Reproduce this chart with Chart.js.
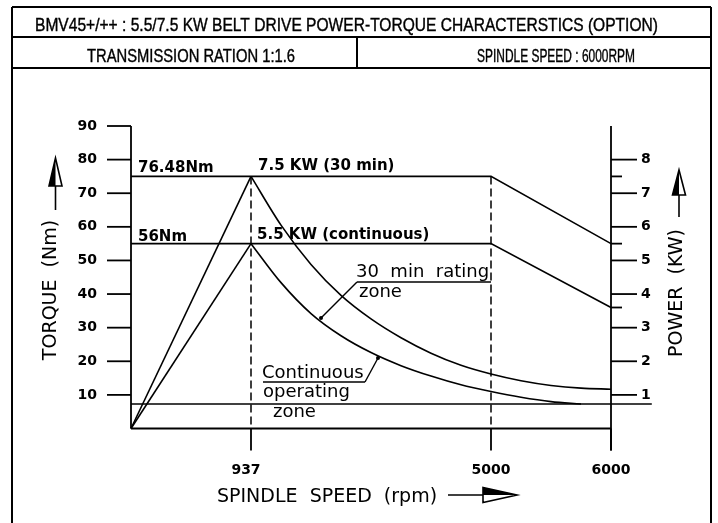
<!DOCTYPE html>
<html>
<head>
<meta charset="utf-8">
<script src="https://cdn.jsdelivr.net/npm/chart.js@4/dist/chart.umd.min.js"></script>
<style>
  html, body { margin: 0; padding: 0; background: #fff; }
  #wrap { width: 718px; height: 523px; }
</style>
</head>
<body>
<div id="wrap"><canvas id="powerTorqueChart" width="718" height="523"></canvas></div>
<script>
// ==============================
// TEXTS
// ==============================
const TITLE = "BMV45+/++ : 5.5/7.5 KW BELT DRIVE POWER-TORQUE CHARACTERSTICS (OPTION)";
const SUB_LEFT = "TRANSMISSION RATION 1:1.6";
const SUB_RIGHT = "SPINDLE SPEED : 6000RPM";

// ==============================
// DATA
// ==============================
// the speed axis is schematic: drawing positions 0..4, labelled in rpm
const speedPos = [1, 3, 4];
const speedLabels = ["937", "5000", "6000"];

const torqueTicks = [10, 20, 30, 40, 50, 60, 70, 80, 90];
const powerTicks = [1, 2, 3, 4, 5, 6, 7, 8];
const powerMarks = [7.5, 5.5, 3.6];

// torque ramps from the origin to the base speed (Nm)
const rampX = [0, 1];
const ramp30 = [0, 75];
const rampCont = [0, 55];

// power lines (kW, right axis)
const powerX = [0, 3, 4];
const power30 = [7.5, 7.5, 5.5];
const powerCont = [5.5, 5.5, 3.6];

// torque curves above base speed (Nm)
const curve30X = [1, 1.25, 1.5, 1.75, 2, 2.25, 2.5, 2.75, 3, 3.25, 3.5, 3.75, 4];
const curve30 = [75, 60.5, 48.8, 39.6, 32.6, 27, 22.4, 18.8, 16.2, 14.2, 12.8, 12, 11.7];
const curveContX = [1, 1.25, 1.5, 1.75, 2, 2.25, 2.5, 2.75, 3, 3.25, 3.5, 3.75];
const curveCont = [55, 43.4, 34.2, 27.6, 22.6, 18.7, 15.6, 13, 11, 9.3, 8, 7.3];

// low torque limit line
const floorX = [0, 4.34];
const floorTorque = [7.3, 7.3];

const guideTop = 75;

const pts = (xs, ys) => xs.map((x, i) => ({ x: x, y: ys[i] }));

// ==============================
// DRAWING HELPERS
// ==============================
function line(ctx, x1, y1, x2, y2) {
  ctx.beginPath();
  ctx.moveTo(x1, y1);
  ctx.lineTo(x2, y2);
  ctx.stroke();
}

// squeeze or stretch a text to an exact width (CAD lettering is condensed)
function fitText(ctx, text, x, y, width) {
  const w = ctx.measureText(text).width;
  ctx.save();
  ctx.translate(x, y);
  ctx.scale(width / w, 1);
  ctx.lineWidth = 0.4;
  ctx.fillText(text, 0, 0);
  ctx.strokeText(text, 0, 0);
  ctx.restore();
}

// CAD style arrow, one half of the head filled
function arrowUp(ctx, cx, tip, base, end) {
  const w = 6.5;
  line(ctx, cx, base, cx, end);
  ctx.beginPath();
  ctx.moveTo(cx, tip); ctx.lineTo(cx - w, base); ctx.lineTo(cx + w, base); ctx.closePath();
  ctx.stroke();
  ctx.beginPath();
  ctx.moveTo(cx, tip); ctx.lineTo(cx - w, base); ctx.lineTo(cx, base); ctx.closePath();
  ctx.fill();
}

function arrowRight(ctx, cy, start, base, tip) {
  const h = 7.5;
  line(ctx, start, cy, base, cy);
  ctx.beginPath();
  ctx.moveTo(tip, cy); ctx.lineTo(base, cy - h); ctx.lineTo(base, cy + h); ctx.closePath();
  ctx.stroke();
  ctx.beginPath();
  ctx.moveTo(tip, cy); ctx.lineTo(base, cy - h); ctx.lineTo(base, cy); ctx.closePath();
  ctx.fill();
}

function vText(ctx, text, x, y) {
  ctx.save();
  ctx.translate(x, y);
  ctx.rotate(-Math.PI / 2);
  ctx.textAlign = "center";
  ctx.textBaseline = "middle";
  ctx.fillText(text, 0, 0);
  ctx.restore();
}

// ==============================
// FRAME, AXES AND NOTES
// ==============================
const drawingPlugin = {
  id: "drawing",
  beforeDraw(chart) {
    const ctx = chart.ctx;
    ctx.save();
    ctx.fillStyle = "#fff";
    ctx.fillRect(0, 0, chart.width, chart.height);
    ctx.restore();
  },
  afterDraw(chart) {
    const ctx = chart.ctx;
    const xs = chart.scales.x, yT = chart.scales.y, yP = chart.scales.yP;
    const x0 = xs.getPixelForValue(0), xEnd = xs.getPixelForValue(4);
    const base = yT.getPixelForValue(0);
    const tickBottom = base + 22;

    ctx.save();
    ctx.strokeStyle = "#000";
    ctx.fillStyle = "#000";
    ctx.lineCap = "butt";

    // frame
    ctx.lineWidth = 2;
    line(ctx, 12, 7, 711, 7);
    line(ctx, 12, 37, 711, 37);
    line(ctx, 12, 68, 711, 68);
    line(ctx, 12, 7, 12, 523);
    line(ctx, 711, 7, 711, 523);
    line(ctx, 357, 37, 357, 68);

    ctx.font = "18.5px 'Liberation Sans Narrow', 'Liberation Sans', Arial, sans-serif";
    ctx.textBaseline = "alphabetic";
    ctx.textAlign = "left";
    fitText(ctx, TITLE, 35, 30.5, 623);
    fitText(ctx, SUB_LEFT, 87, 62, 208);
    fitText(ctx, SUB_RIGHT, 477, 62, 158);

    // axes
    ctx.lineWidth = 1.8;
    line(ctx, x0, yT.getPixelForValue(90), x0, base);
    line(ctx, x0, base, xEnd, base);
    line(ctx, xEnd, yP.getPixelForValue(9), xEnd, tickBottom);

    ctx.font = "bold 14px 'DejaVu Sans', Verdana, sans-serif";
    ctx.textBaseline = "middle";
    ctx.textAlign = "right";
    torqueTicks.forEach(t => {
      const y = yT.getPixelForValue(t);
      line(ctx, x0 - 24, y, x0, y);
      ctx.fillText(String(t), x0 - 34, y);
    });

    ctx.textAlign = "left";
    powerTicks.forEach(p => {
      const y = yP.getPixelForValue(p);
      line(ctx, xEnd, y, xEnd + 26, y);
      ctx.fillText(String(p), xEnd + 30, y);
    });
    powerMarks.forEach(p => {
      const y = yP.getPixelForValue(p);
      line(ctx, xEnd, y, xEnd + 11, y);
    });

    // speed ticks and dashed guides
    ctx.textAlign = "center";
    ctx.textBaseline = "alphabetic";
    speedPos.forEach((p, i) => {
      const x = xs.getPixelForValue(p);
      line(ctx, x, base, x, tickBottom);
      if (p < 4) {
        ctx.save();
        ctx.setLineDash([8, 4]);
        ctx.lineWidth = 1.5;
        line(ctx, x, yT.getPixelForValue(guideTop), x, base);
        ctx.restore();
      }
      ctx.fillText(speedLabels[i], p === 1 ? x - 5 : x, base + 45);
    });

    // rating labels
    ctx.font = "bold 15px 'DejaVu Sans', Verdana, sans-serif";
    ctx.textAlign = "left";
    ctx.fillText("76.48Nm", x0 + 7, yT.getPixelForValue(75) - 4);
    ctx.fillText("56Nm", x0 + 7, yT.getPixelForValue(55) - 3);
    ctx.fillText("7.5 KW (30 min)", xs.getPixelForValue(1) + 7, yP.getPixelForValue(7.5) - 6);
    ctx.fillText("5.5 KW (continuous)", xs.getPixelForValue(1) + 6, yP.getPixelForValue(5.5) - 5);

    // zone notes with leaders
    ctx.font = "18px 'DejaVu Sans', Verdana, sans-serif";
    ctx.fillText("30  min  rating", 356, 277);
    ctx.fillText("zone", 359, 297);
    ctx.lineWidth = 1.4;
    line(ctx, 357, 282, 491, 282);
    line(ctx, 357, 282, 321, 318);
    ctx.beginPath(); ctx.arc(321, 318, 2, 0, Math.PI * 2); ctx.fill();

    ctx.fillText("Continuous", 262, 378);
    ctx.fillText("operating", 263, 397);
    ctx.fillText("zone", 273, 417);
    line(ctx, 263, 382, 365, 382);
    line(ctx, 365, 382, 378, 358);
    ctx.beginPath(); ctx.arc(378, 358, 2, 0, Math.PI * 2); ctx.fill();

    // axis titles
    ctx.font = "19px 'DejaVu Sans', Verdana, sans-serif";
    vText(ctx, "TORQUE  (Nm)", 51, 290);
    vText(ctx, "POWER  (KW)", 677, 293);
    ctx.textAlign = "left";
    ctx.fillText("SPINDLE  SPEED  (rpm)", 217, 502);

    ctx.lineWidth = 1.6;
    arrowUp(ctx, 55.5, 158, 186, 210);
    arrowUp(ctx, 679, 170, 195, 217);
    arrowRight(ctx, 495, 448, 483, 517);

    ctx.restore();
  }
};

// ==============================
// CHART
// ==============================
const lineStyle = {
  borderColor: "#000",
  borderWidth: 1.6,
  pointRadius: 0,
  fill: false,
  clip: false
};

new Chart(document.getElementById("powerTorqueChart").getContext("2d"), {
  type: "line",
  data: {
    datasets: [
      { ...lineStyle, label: "Torque ramp 30 min", data: pts(rampX, ramp30) },
      { ...lineStyle, label: "Torque ramp continuous", data: pts(rampX, rampCont) },
      { ...lineStyle, label: "Power 30 min", yAxisID: "yP", data: pts(powerX, power30) },
      { ...lineStyle, label: "Power continuous", yAxisID: "yP", data: pts(powerX, powerCont) },
      { ...lineStyle, label: "Torque 30 min", data: pts(curve30X, curve30), cubicInterpolationMode: "monotone" },
      { ...lineStyle, label: "Torque continuous", data: pts(curveContX, curveCont), cubicInterpolationMode: "monotone" },
      { ...lineStyle, label: "Torque floor", data: pts(floorX, floorTorque) }
    ]
  },
  options: {
    responsive: false,
    animation: false,
    devicePixelRatio: 1,
    layout: { padding: { left: 131, right: 107, top: 126, bottom: 94.5 } },
    plugins: {
      legend: { display: false },
      tooltip: { enabled: false }
    },
    scales: {
      x: { type: "linear", min: 0, max: 4, display: false },
      y: { min: 0, max: 90, display: false },
      yP: { min: 0, max: 9, display: false, position: "right" }
    }
  },
  plugins: [drawingPlugin]
});
</script>
</body>
</html>
